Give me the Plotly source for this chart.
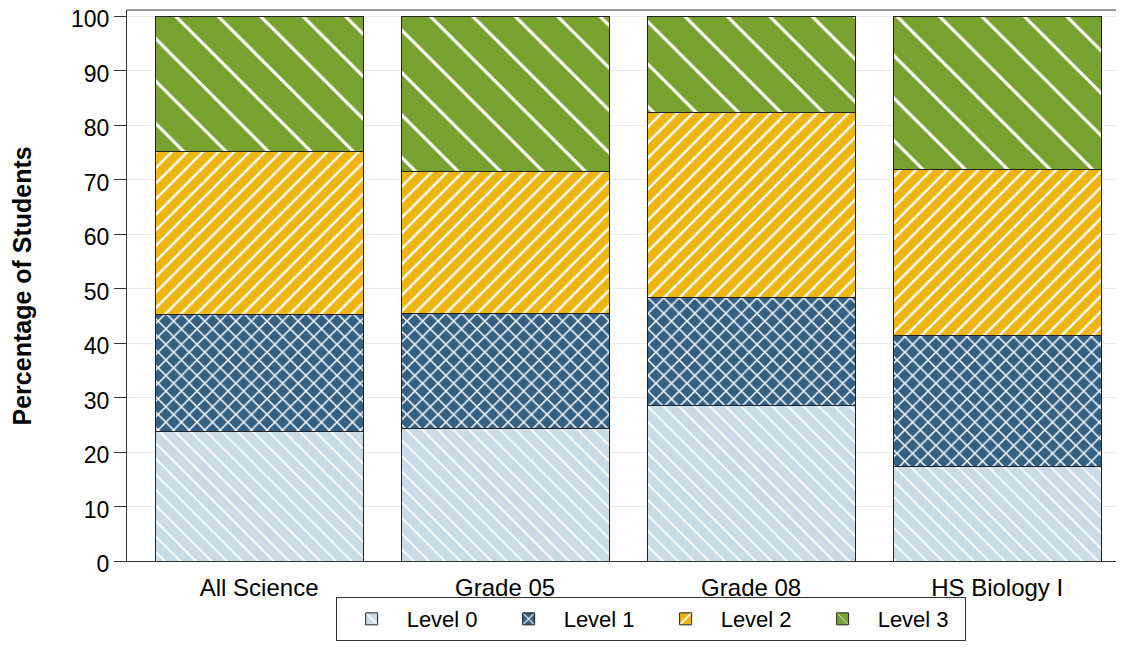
import plotly.graph_objects as go

categories = ["All Science", "Grade 05", "Grade 08", "HS Biology I"]
level0 = [23.8, 24.3, 28.5, 17.4]
level1 = [21.5, 21.1, 19.8, 23.9]
level2 = [29.8, 26.0, 34.0, 30.5]
level3 = [24.9, 28.6, 17.7, 28.2]
y_ticks = list(range(0, 101, 10))

series = [
    ("Level 0", level0, "#C9DBE7", "\\", 11, 0.17),
    ("Level 1", level1, "#336186", "x", 11, 0.25),
    ("Level 2", level2, "#F0B411", "/", 11, 0.22),
    ("Level 3", level3, "#77A22F", "\\", 30, 0.1),
]

fig = go.Figure()
for name, vals, color, shape, size, sol in series:
    fig.add_trace(go.Bar(
        x=categories, y=vals, name=name,
        marker=dict(
            color=color,
            line=dict(color="#222222", width=1),
            pattern=dict(shape=shape, fgcolor="white", bgcolor=color, fgopacity=1,
                         size=size, solidity=sol, fillmode="replace"),
        ),
        width=0.846,
    ))

# page has an 8px body margin: figure is sized to fit the 1124x650 window
fig.update_layout(
    barmode="stack",
    width=1108, height=634,
    margin=dict(l=119, r=0, t=2, b=81, autoexpand=False),
    paper_bgcolor="white", plot_bgcolor="white",
    font=dict(family="Liberation Sans, Arial, sans-serif", size=22, color="black"),
    showlegend=True,
    legend=dict(
        orientation="h", xref="container", x=0.58, xanchor="center",
        yref="container", y=0.0015, yanchor="bottom",
        bordercolor="#333333", borderwidth=1, font=dict(size=22),
        traceorder="normal", itemwidth=60, entrywidth=82, entrywidthmode="pixels",
    ),
)
fig.update_xaxes(
    range=[-0.537, 3.483], showline=True, linecolor="#333333", linewidth=1,
    ticks="outside", ticklen=5, tickcolor="rgba(0,0,0,0)",
    tickfont=dict(size=24), mirror=False, showgrid=False, automargin=False,
)
fig.update_yaxes(
    range=[0, 101.1], tickvals=y_ticks,
    showline=True, linecolor="#333333", linewidth=1,
    ticks="outside", ticklen=12, tickcolor="#333333",
    showgrid=True, gridcolor="#EBEBEB", gridwidth=1,
    tickfont=dict(size=23), zeroline=False, automargin=False,
    ticklabeloverflow="allow", ticklabelshift=3,
)
fig.add_annotation(
    text="<b>Percentage of Students</b>", xref="paper", yref="paper",
    x=-0.1062, y=0.5, xanchor="center", yanchor="middle", textangle=-90,
    showarrow=False, font=dict(size=25),
)
# top border of plot frame
fig.add_shape(type="line", xref="paper", yref="paper", x0=0, x1=1, y0=1, y1=1,
              line=dict(color="#333333", width=1))

fig.write_html("out.html")
